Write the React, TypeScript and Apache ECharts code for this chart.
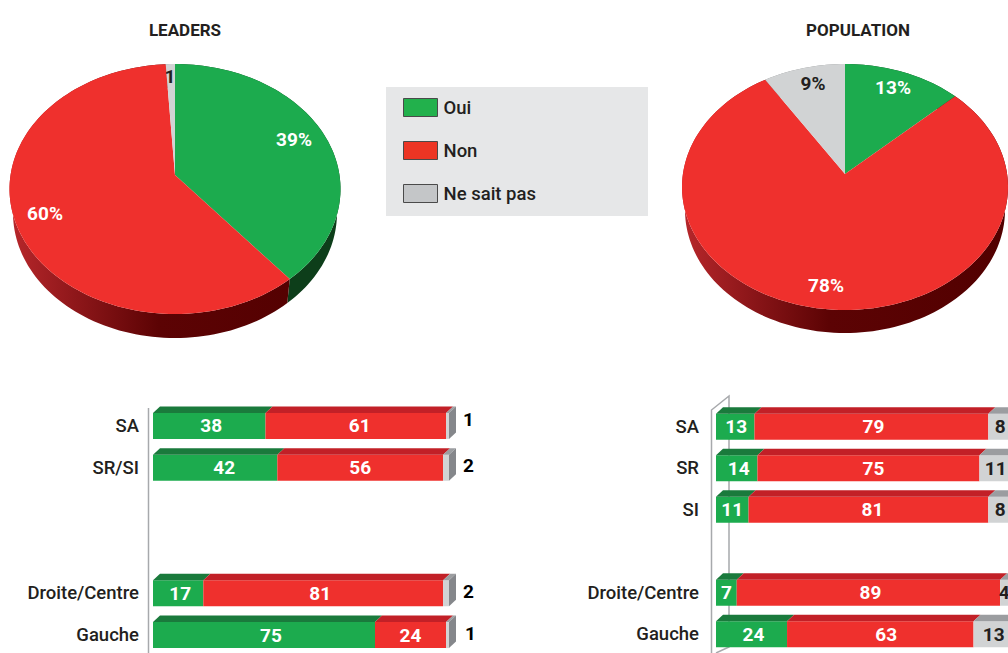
import React, { useEffect, useRef } from "react";
import * as echarts from "echarts";

const FONT = "Roboto";
const INK = "#231f20";
const GREEN = "#1cab4e";
const RED = "#ef302d";
const GREY = "#d1d3d4";
const TOP_COLORS = ["#1a7a3c", "#c22027", "#9b9da0"];
const SIDE = "#85878b";

const seriesNames = ["Oui", "Non", "Ne sait pas"];
const sliceColors = [GREEN, RED, GREY];
const legendColors = ["#22b14c", "#ec3524", "#c4c6c8"];

const leadersPie = [39, 60, 1];
const leadersPieLabels = ["39%", "60%", "1"];
const populationPie = [13, 78, 9];
const populationPieLabels = ["13%", "78%", "9%"];

const leadersCats = ["SA", "SR/SI", "", "", "Droite/Centre", "Gauche"];
const leadersOui = [38, 42, null, null, 17, 75];
const leadersNon = [61, 56, null, null, 81, 24];
const leadersNsp = [1, 2, null, null, 2, 1];

const populationCats = ["SA", "SR", "SI", "", "Droite/Centre", "Gauche"];
const populationOui = [13, 14, 11, null, 7, 24];
const populationNon = [79, 75, 81, null, 89, 63];
const populationNsp = [8, 11, 8, null, 4, 13];

// Label placement only: the reference does not centre every number in its segment
const leadersNudges = [
  [[2, 0], [9, 0], [0, 0], [0, 0], [2, 0], [7, 0]],
  [[4, 0], [0, 0], [0, 0], [0, 0], [-3, 0], [0, 0]],
  [[0, -6], [0, -2], [0, 0], [0, 0], [0, -2], [2, -2]],
];
const populationNudges = [
  [[1, 0], [2, 0], [0, 0], [0, 0], [0, 0], [2, 0]],
  [[2, 0], [5, 0], [4, 0], [0, 0], [2, 0], [6, 0]],
  [[0, 0], [0, 0], [0, 0], [0, 0], [-2, 0], [1, 0]],
];

function cumul(values: number[]) {
  let s = 0;
  return values.map((v) => {
    const row = [s, s + v, v];
    s += v;
    return row;
  });
}

// Projective view of a disc: rays from the centre land on the apex
function project(pct: number, a: number) {
  const t = (pct / 100) * Math.PI * 2;
  const sx = Math.sin(t);
  const sy = -Math.cos(t);
  const d = 1 + a * sy;
  return [(sx * Math.sqrt(1 - a * a)) / d, (sy + a) / d];
}

function pieSeries(
  values: number[],
  labels: string[],
  geo: any,
  labelPos: number[][],
) {
  const data = cumul(values);
  const a = (geo.apexY - geo.cy) / geo.ry;
  const arc = (s: number, e: number, rx: number, cy: number) => {
    const pts: number[][] = [];
    const n = Math.max(2, Math.ceil((e - s) * 2));
    for (let i = 0; i <= n; i++) {
      const [x, y] = project(s + ((e - s) * i) / n, a);
      pts.push([geo.cx + rx * x, cy + geo.ry * y]);
    }
    return pts;
  };
  const wall = {
    type: "custom",
    coordinateSystem: "none",
    silent: true,
    z: 3,
    data,
    renderItem: (_: any, api: any) => {
      const s = api.value(0);
      const e = api.value(1);
      const top = arc(s, e, geo.rx, geo.cy);
      const bottom = arc(s, e, geo.rx2, geo.cy + geo.depth).reverse();
      const fill =
        _.dataIndex === 0
          ? "#0d3e1a"
          : _.dataIndex === 1
            ? new echarts.graphic.LinearGradient(
                geo.cx - geo.rx,
                0,
                geo.cx + geo.rx,
                0,
                [
                  { offset: 0, color: "#b8272b" },
                  { offset: 0.2, color: "#8e171a" },
                  { offset: 0.45, color: "#5c0304" },
                  { offset: 1, color: "#520000" },
                ],
                true,
              )
            : "#8a8c8e";
      return {
        type: "polygon",
        shape: { points: top.concat(bottom) },
        style: { fill },
      };
    },
  };
  const face = {
    type: "custom",
    coordinateSystem: "none",
    silent: true,
    z: 4,
    data,
    renderItem: (p: any, api: any) => {
      const s = api.value(0);
      const e = api.value(1);
      const i = p.dataIndex;
      const pts = [[geo.cx, geo.apexY]].concat(arc(s, e, geo.rx, geo.cy));
      return {
        type: "group",
        children: [
          {
            type: "polygon",
            shape: { points: pts },
            style: { fill: sliceColors[i] },
          },
          {
            type: "text",
            x: labelPos[i][0],
            y: labelPos[i][1],
            z2: 5,
            style: {
              text: labels[i],
              fill: i === 2 ? INK : "#ffffff",
              font: `bold 19px ${FONT}`,
              align: "center",
              verticalAlign: "middle",
            },
          },
        ],
      };
    },
  };
  return [wall, face];
}

function barSeries(
  gridIndex: number,
  stack: string,
  oui: any[],
  non: any[],
  nsp: any[],
  outsideGrey: boolean,
  nudges: number[][][],
) {
  const lists = [oui, non, nsp];
  const bars = lists.map((vals, k) => ({
    type: "bar",
    name: seriesNames[k],
    stack,
    xAxisIndex: gridIndex,
    yAxisIndex: gridIndex,
    barWidth: 26,
    data: vals.map((v, row) => ({ value: v, label: { offset: nudges[k][row] } })),
    silent: true,
    z: 5,
    itemStyle: { color: sliceColors[k] },
    label: {
      show: true,
      position: k === 2 && outsideGrey ? "right" : "inside",
      distance: 14,
      color: k === 2 ? (outsideGrey ? "#000000" : INK) : "#ffffff",
      fontFamily: FONT,
      fontWeight: "bold",
      fontSize: 19,
    },
  }));
  const faces: number[][] = [];
  oui.forEach((_, row) => {
    if (oui[row] == null) return;
    let s = 0;
    lists.forEach((l, k) => {
      faces.push([s, s + l[row], row, k]);
      s += l[row];
    });
  });
  const skewX = 7;
  const skewY = 6.5;
  const top = {
    type: "custom",
    coordinateSystem: "cartesian2d",
    xAxisIndex: gridIndex,
    yAxisIndex: gridIndex,
    silent: true,
    clip: false,
    z: 6,
    encode: { x: [0, 1], y: 2 },
    data: faces,
    renderItem: (_: any, api: any) => {
      const a = api.coord([api.value(0), api.value(2)]);
      const b = api.coord([api.value(1), api.value(2)]);
      const h = 26;
      const y0 = a[1] - h / 2;
      const k = api.value(3);
      const children: any[] = [
        {
          type: "polygon",
          shape: {
            points: [
              [a[0], y0],
              [a[0] + skewX, y0 - skewY],
              [b[0] + skewX, y0 - skewY],
              [b[0], y0],
            ],
          },
          style: { fill: TOP_COLORS[k] },
        },
      ];
      if (k === 2) {
        children.push({
          type: "polygon",
          shape: {
            points: [
              [b[0], y0],
              [b[0] + skewX, y0 - skewY],
              [b[0] + skewX, y0 + h - skewY],
              [b[0], y0 + h],
            ],
          },
          style: { fill: SIDE },
        });
      }
      return { type: "group", children };
    },
  };
  return [...bars, top];
}

const LINE = { stroke: "#a7a9ac", lineWidth: 1.5, fill: "none" };

export default function App() {
  const ref = useRef<HTMLDivElement>(null);
  useEffect(() => {
    const chart = echarts.init(ref.current!, null, { renderer: "svg" });
    const axisLabel = (margin: number) => ({
      color: INK,
      fontFamily: FONT,
      fontWeight: 500,
      fontSize: 18.5,
      margin,
    });
    const titleStyle = { fontFamily: FONT, fontWeight: "bold", fontSize: 17, color: INK };
    chart.setOption({
      animation: false,
      backgroundColor: "#ffffff",
      title: [
        { text: "LEADERS", left: 180, top: 16, textAlign: "center", textStyle: titleStyle },
        { text: "POPULATION", left: 853, top: 16, textAlign: "center", textStyle: titleStyle },
      ],
      legend: {
        orient: "vertical",
        left: 403,
        top: 98,
        padding: 0,
        itemWidth: 34,
        itemHeight: 18,
        itemGap: 24,
        selectedMode: false,
        data: seriesNames.map((name, i) => ({
          name,
          icon: "rect",
          itemStyle: { color: legendColors[i], borderColor: "#4a4a4a", borderWidth: 1 },
        })),
        textStyle: { color: INK, fontFamily: FONT, fontWeight: 500, fontSize: 18.5, padding: [0, 0, 0, 1] },
      },
      graphic: [
        { type: "rect", z: -1, shape: { x: 386, y: 87, width: 262, height: 129 }, style: { fill: "#e6e7e8" } },
        { type: "line", z: 0, shape: { x1: 148.5, y1: 408, x2: 148.5, y2: 653 }, style: LINE },
        {
          type: "polyline",
          z: 0,
          shape: { points: [[711.5, 653], [711.5, 410], [729, 396], [729, 647], [716, 653]] },
          style: LINE,
        },
      ],
      grid: [
        { left: 153, width: 296, top: 405, height: 251 },
        { left: 716, width: 296, top: 406, height: 249 },
      ],
      xAxis: [
        { type: "value", gridIndex: 0, min: 0, max: 100, show: false },
        { type: "value", gridIndex: 1, min: 0, max: 100, show: false },
      ],
      yAxis: [
        {
          type: "category",
          gridIndex: 0,
          inverse: true,
          data: leadersCats,
          axisLine: { show: false },
          axisTick: { show: false },
          axisLabel: axisLabel(14),
        },
        {
          type: "category",
          gridIndex: 1,
          inverse: true,
          data: populationCats,
          axisLine: { show: false },
          axisTick: { show: false },
          axisLabel: axisLabel(17),
        },
      ],
      series: [
        ...pieSeries(
          leadersPie,
          leadersPieLabels,
          { cx: 175, cy: 189, apexY: 175, rx: 165.5, rx2: 162, ry: 125, depth: 24 },
          [[294, 139], [45, 213], [170, 76]],
        ),
        ...pieSeries(
          populationPie,
          populationPieLabels,
          { cx: 845, cy: 187, apexY: 174, rx: 163, rx2: 160, ry: 123, depth: 23 },
          [[893, 87], [826, 285], [813, 83]],
        ),
        ...barSeries(0, "leaders", leadersOui, leadersNon, leadersNsp, true, leadersNudges),
        ...barSeries(1, "population", populationOui, populationNon, populationNsp, false, populationNudges),
      ],
    });
    return () => chart.dispose();
  }, []);
  return (
    <div style={{ position: "absolute", left: 0, top: 0, width: 1008, height: 653, overflow: "hidden" }}>
      <div ref={ref} style={{ width: 1040, height: 680 }} />
    </div>
  );
}
